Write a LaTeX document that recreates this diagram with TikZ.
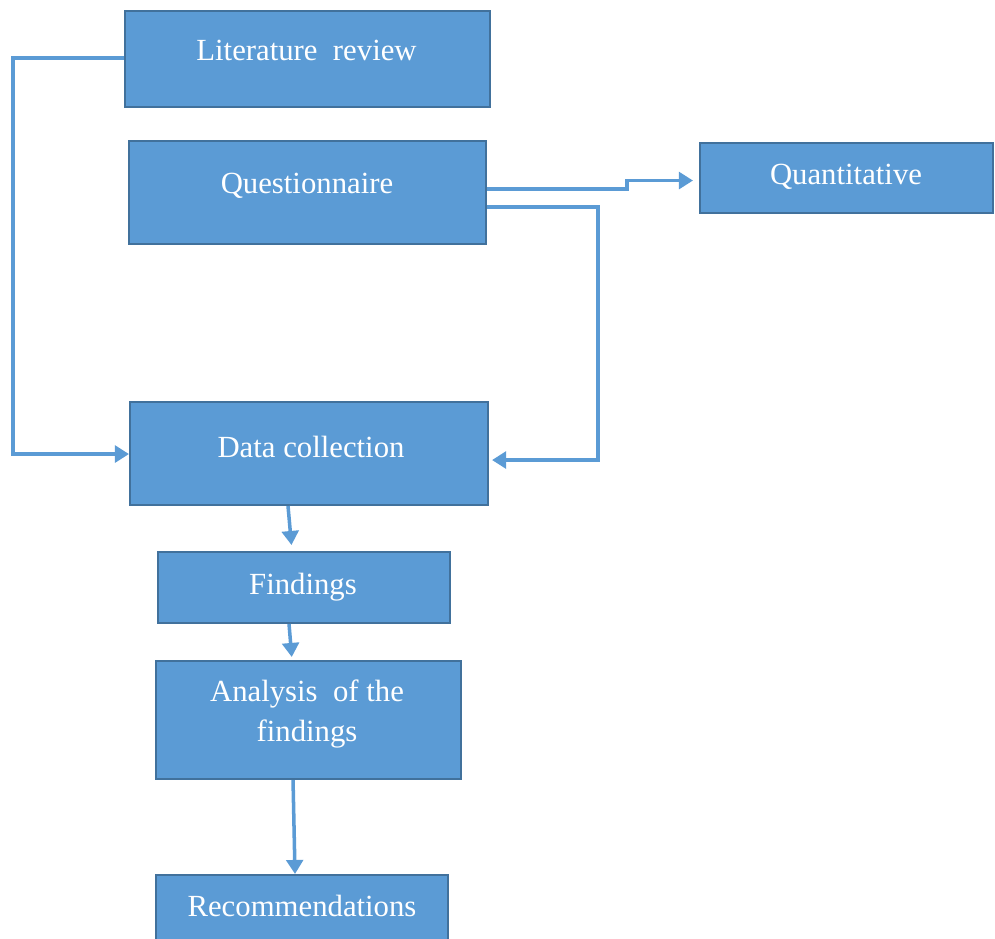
\documentclass[tikz,border=0pt]{standalone}
\usepackage{fontspec}
\setmainfont{Liberation Serif}
\usetikzlibrary{arrows.meta}
\definecolor{boxfill}{HTML}{5B9BD5}
\definecolor{boxedge}{HTML}{41719C}
\definecolor{linkblue}{HTML}{5B9BD5}
\begin{document}
\begin{tikzpicture}[x=0.02cm,y=-0.02cm,
  flowbox/.style={draw=boxedge, fill=boxfill, line width=1.2pt, inner sep=0pt, anchor=north west},
  boxtext/.style={text=white, font=\fontsize{17.5}{22.7}\selectfont, anchor=base, inner sep=0pt, align=center},
  link/.style={draw=linkblue, line width=2pt},
  conn/.style={link, -{Triangle[length=8pt,width=9.5pt]}}]
\useasboundingbox (0,0) rectangle (995,939);

% boxes
\node[flowbox, minimum width=7.30cm, minimum height=1.92cm] (lit)   at (124,10)  {};
\node[flowbox, minimum width=7.14cm, minimum height=2.06cm] (quest) at (128,140) {};
\node[flowbox, minimum width=5.86cm, minimum height=1.40cm] (quant) at (699,142) {};
\node[flowbox, minimum width=7.16cm, minimum height=2.06cm] (data)  at (129,401) {};
\node[flowbox, minimum width=5.84cm, minimum height=1.42cm] (find)  at (157,551) {};
\node[flowbox, minimum width=6.10cm, minimum height=2.36cm] (anal)  at (155,660) {};
\node[flowbox, minimum width=5.84cm, minimum height=1.42cm] (rec)   at (155,874) {};

% box texts
\node[boxtext] (lit-t)   at (306.5,61) {Literature\ \ review};
\node[boxtext] (quest-t) at (307,194)  {Questionnaire};
\node[boxtext] (quant-t) at (846,185)  {Quantitative};
\node[boxtext] (data-t)  at (311,458)  {Data collection};
\node[boxtext] (find-t)  at (303,594)  {Findings};
\node[boxtext, anchor=center] (anal-t) at (307,714) {Analysis\ \ of the\\findings};
\node[boxtext] (rec-t)   at (302,916)  {Recommendations};

% bend columns of the elbow connectors
\coordinate (lbend) at (13,0);
\coordinate (qbend) at (627,0);
\coordinate (rbend) at (598,0);

% elbow connectors
\draw[conn] ([yshift=0.02cm]lit.west) -- ([yshift=0.02cm]lit.west -| lbend) |- ([yshift=-0.01cm]data.west);
\draw[conn, shorten >=0.12cm] ([yshift=0.07cm]quest.east) -- ([yshift=0.07cm]quest.east -| qbend)
  |- ([yshift=-0.05cm]quant.west);
\draw[conn, shorten >=0.06cm] ([yshift=-0.29cm]quest.east) -- ([yshift=-0.29cm]quest.east -| rbend)
  |- ([yshift=-0.13cm]data.east);

% downward connectors
\draw[conn, shorten >=0.12cm] ([xshift=-0.42cm]data.south) -- ([xshift=-0.24cm]find.north);
\draw[conn, shorten >=0.06cm] ([xshift=-0.30cm]find.south) -- ([xshift=-0.33cm]anal.north);
\draw[conn] ([xshift=-0.31cm]anal.south) -- ([xshift=-0.14cm]rec.north);
\end{tikzpicture}
\end{document}
